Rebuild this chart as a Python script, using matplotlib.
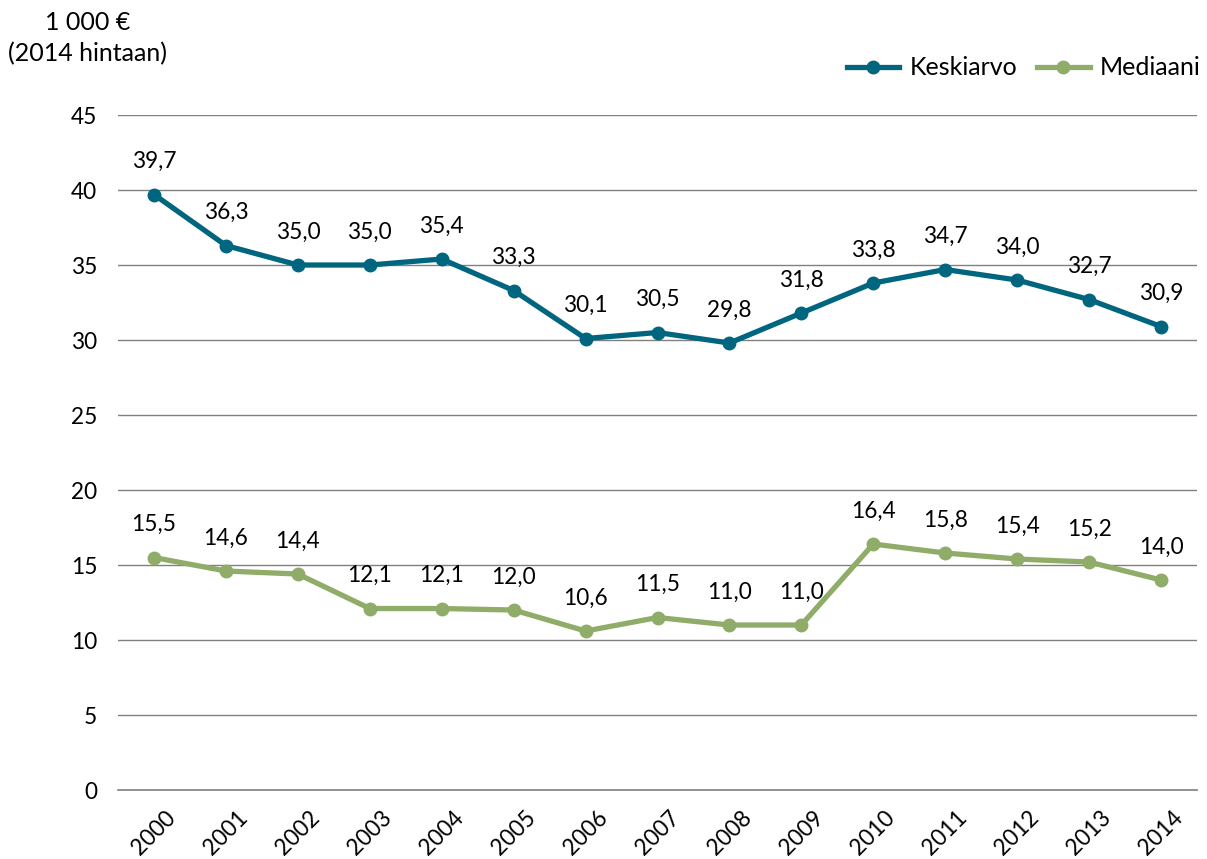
import matplotlib.pyplot as plt

plt.rcParams['font.family'] = ['Lato', 'DejaVu Sans']

# Data
years = ['2000', '2001', '2002', '2003', '2004', '2005', '2006', '2007',
         '2008', '2009', '2010', '2011', '2012', '2013', '2014']
keskiarvo = [39.7, 36.3, 35.0, 35.0, 35.4, 33.3, 30.1, 30.5, 29.8, 31.8,
             33.8, 34.7, 34.0, 32.7, 30.9]
mediaani = [15.5, 14.6, 14.4, 12.1, 12.1, 12.0, 10.6, 11.5, 11.0, 11.0,
            16.4, 15.8, 15.4, 15.2, 14.0]

teal = '#00667f'
green = '#8fac68'
fs = 16.3

fig = plt.figure(figsize=(12.07, 8.59), dpi=100)
ax = fig.add_axes([0.0978, 0.0803, 0.8939, 0.7858])

x = list(range(len(years)))
ax.plot(x, keskiarvo, color=teal, lw=3.8, marker='o', ms=9, label='Keskiarvo', zorder=3)
ax.plot(x, mediaani, color=green, lw=3.8, marker='o', ms=9, label='Mediaani', zorder=3)

for xi, v in zip(x, keskiarvo):
    ax.annotate(f'{v:.1f}'.replace('.', ','), (xi, v), xytext=(0, 16),
                textcoords='offset points', ha='center', va='bottom', fontsize=fs)
for xi, v in zip(x, mediaani):
    ax.annotate(f'{v:.1f}'.replace('.', ','), (xi, v), xytext=(0, 16),
                textcoords='offset points', ha='center', va='bottom', fontsize=fs)

ax.set_xlim(-0.5, len(years) - 0.5)
ax.set_ylim(0, 45)
ax.set_yticks(range(0, 46, 5))
ax.set_xticks(x)
ax.set_xticklabels(years, rotation=45, ha='center', va='top')
ax.tick_params(axis='y', length=0, pad=15, labelsize=fs)
ax.tick_params(axis='x', length=0, pad=12, labelsize=fs)

ax.grid(axis='y', color='#808080', lw=1, zorder=0)
for s in ['left', 'right', 'top']:
    ax.spines[s].set_visible(False)
ax.spines['bottom'].set_color('#808080')
ax.spines['bottom'].set_linewidth(1.2)

fig.text(88 / 1207, 1 - 38 / 859, '1 000 €\n(2014 hintaan)', ha='center', va='center',
         fontsize=18, linespacing=1.4)

ax.legend(loc='center right', bbox_to_anchor=(1.024, 1.07), ncol=2, frameon=False,
          fontsize=18, handlelength=2.1, columnspacing=0.8, handletextpad=0.4)

plt.savefig('out.png', dpi=100)
